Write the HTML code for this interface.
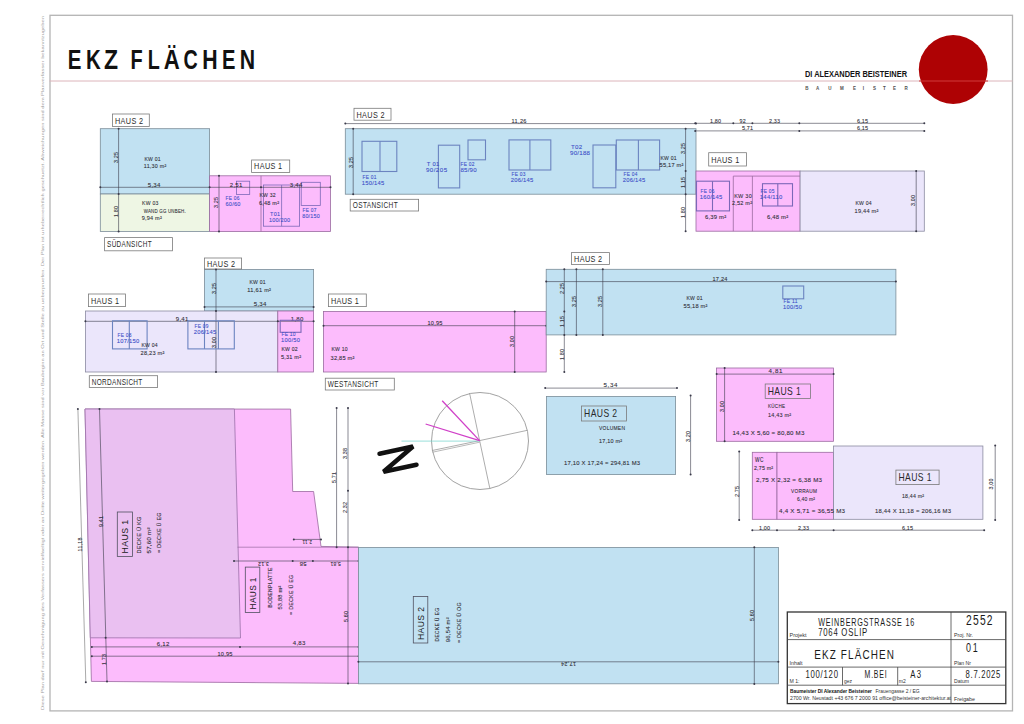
<!DOCTYPE html>
<html><head><meta charset="utf-8"><title>EKZ Flaechen</title>
<style>
html,body{margin:0;padding:0;background:#fff;width:1024px;height:724px;overflow:hidden}
svg{display:block;font-family:"Liberation Sans",sans-serif}
</style></head><body>
<svg width="1024" height="724" viewBox="0 0 1024 724">
<rect x="0" y="0" width="1024" height="724" fill="#fff"/>
<rect x="50" y="15.3" width="962.5" height="695.6" fill="none" stroke="#b4b4b4" stroke-width="1.3"/>
<text x="44.2" y="710" font-size="3" fill="#a0a0a0" textLength="694" lengthAdjust="spacingAndGlyphs" transform="rotate(-90 44.2 710)">Diese Plan darf nur mit Genehmigung des Verfassers vervielfaeltigt oder an Dritte weitergegeben werden. Alle Masse sind vor Baubeginn an Ort und Stelle zu ueberpruefen. Der Plan ist urheberrechtlich geschuetzt. Abweichungen sind dem Planverfasser bekanntzugeben</text>
<text transform="translate(67.7 69.2) scale(0.734 1)" font-size="27.91" fill="#111" font-weight="bold">E</text>
<text transform="translate(85.9 69.2) scale(0.732 1)" font-size="27.91" fill="#111" font-weight="bold">K</text>
<text transform="translate(104.1 69.2) scale(0.824 1)" font-size="27.91" fill="#111" font-weight="bold">Z</text>
<text transform="translate(130.6 69.2) scale(0.713 1)" font-size="27.91" fill="#111" font-weight="bold">F</text>
<text transform="translate(147.7 69.2) scale(0.705 1)" font-size="27.91" fill="#111" font-weight="bold">L</text>
<text transform="translate(163.8 69.2) scale(0.796 1)" font-size="27.91" fill="#111" font-weight="bold">Ä</text>
<text transform="translate(183.4 69.2) scale(0.707 1)" font-size="27.91" fill="#111" font-weight="bold">C</text>
<text transform="translate(202.3 69.2) scale(0.762 1)" font-size="27.91" fill="#111" font-weight="bold">H</text>
<text transform="translate(222 69.2) scale(0.722 1)" font-size="27.91" fill="#111" font-weight="bold">E</text>
<text transform="translate(239.7 69.2) scale(0.762 1)" font-size="27.91" fill="#111" font-weight="bold">N</text>
<line x1="49.5" y1="81" x2="1012.5" y2="81" stroke="#dcb4ba" stroke-width="1"/>
<circle cx="953.2" cy="69.5" r="34.4" fill="#ae0204"/>
<line x1="919" y1="81" x2="988" y2="81" stroke="#d03a3a" stroke-width="1.2"/>
<text x="805" y="76.8" font-size="9.8" fill="#151515" textLength="102" lengthAdjust="spacingAndGlyphs" font-weight="bold">DI ALEXANDER BEISTEINER</text>
<text transform="translate(806.8 89.6) scale(0.75 1)" text-anchor="middle" font-size="6" font-weight="bold" fill="#505050">B</text>
<text transform="translate(817.7 89.6) scale(0.75 1)" text-anchor="middle" font-size="6" font-weight="bold" fill="#505050">A</text>
<text transform="translate(829.8 89.6) scale(0.75 1)" text-anchor="middle" font-size="6" font-weight="bold" fill="#505050">U</text>
<text transform="translate(841.8 89.6) scale(0.75 1)" text-anchor="middle" font-size="6" font-weight="bold" fill="#505050">M</text>
<text transform="translate(854.4 89.6) scale(0.75 1)" text-anchor="middle" font-size="6" font-weight="bold" fill="#505050">E</text>
<text transform="translate(863.3 89.6) scale(0.75 1)" text-anchor="middle" font-size="6" font-weight="bold" fill="#505050">I</text>
<text transform="translate(874.5 89.6) scale(0.75 1)" text-anchor="middle" font-size="6" font-weight="bold" fill="#505050">S</text>
<text transform="translate(884.3 89.6) scale(0.75 1)" text-anchor="middle" font-size="6" font-weight="bold" fill="#505050">T</text>
<text transform="translate(894.6 89.6) scale(0.75 1)" text-anchor="middle" font-size="6" font-weight="bold" fill="#505050">E</text>
<text transform="translate(906.1 89.6) scale(0.75 1)" text-anchor="middle" font-size="6" font-weight="bold" fill="#505050">R</text>
<rect x="100.3" y="128.7" width="109.3" height="65.3" fill="#c1e1f2" stroke="#7a8c98" stroke-width="0.8"/>
<rect x="100.3" y="194" width="109.3" height="37.5" fill="#eef6e4" stroke="#7a8c98" stroke-width="0.8"/>
<rect x="209.6" y="175.8" width="120.9" height="55.7" fill="#fcbcfc" stroke="#9a6aa0" stroke-width="0.8"/>
<rect x="112.5" y="114" width="36.8" height="12.5" fill="#ffffff" stroke="#7a7a7a" stroke-width="0.8"/>
<text transform="translate(115 123.5) scale(0.8095785647772671 1)" font-size="9" fill="#2a2a2a" textLength="34.6" lengthAdjust="spacing">HAUS 2</text>
<rect x="251.6" y="160" width="38.1" height="12.4" fill="#ffffff" stroke="#7a7a7a" stroke-width="0.8"/>
<text transform="translate(254.1 169.4) scale(0.8095785647772671 1)" font-size="9" fill="#2a2a2a" textLength="34.6" lengthAdjust="spacing">HAUS 1</text>
<rect x="104.6" y="237.6" width="67.9" height="13.2" fill="#ffffff" stroke="#7a7a7a" stroke-width="0.8"/>
<text transform="translate(107.1 247.4) scale(0.7149890249296844 1)" font-size="9" fill="#2a2a2a" textLength="62.2" lengthAdjust="spacing">SÜDANSICHT</text>
<line x1="261" y1="175.8" x2="261" y2="231.5" stroke="#9a6aa0" stroke-width="0.8"/>
<rect x="236.5" y="181.2" width="13.2" height="13.2" fill="none" stroke="#7c68b8" stroke-width="0.8"/>
<rect x="263.4" y="185" width="36.2" height="41.2" fill="none" stroke="#7c68b8" stroke-width="0.8"/>
<line x1="281.6" y1="185" x2="281.6" y2="226.2" stroke="#7c68b8" stroke-width="0.8"/>
<rect x="301.2" y="182.3" width="19.1" height="23.2" fill="none" stroke="#7c68b8" stroke-width="0.8"/>
<line x1="100.3" y1="187.3" x2="330.5" y2="187.3" stroke="#3a3a4a" stroke-width="0.6"/>
<circle cx="100.3" cy="187.3" r="1" fill="#3a3a4a"/>
<circle cx="209.6" cy="187.3" r="1" fill="#3a3a4a"/>
<circle cx="261" cy="187.3" r="1" fill="#3a3a4a"/>
<circle cx="330.5" cy="187.3" r="1" fill="#3a3a4a"/>
<line x1="118.6" y1="128.7" x2="118.6" y2="231.5" stroke="#3a3a4a" stroke-width="0.6"/>
<circle cx="118.6" cy="128.7" r="1" fill="#3a3a4a"/>
<circle cx="118.6" cy="194" r="1" fill="#3a3a4a"/>
<circle cx="118.6" cy="231.5" r="1" fill="#3a3a4a"/>
<line x1="219" y1="175.8" x2="219" y2="231.5" stroke="#3a3a4a" stroke-width="0.6"/>
<circle cx="219" cy="175.8" r="1" fill="#3a3a4a"/>
<circle cx="219" cy="231.5" r="1" fill="#3a3a4a"/>
<text transform="translate(144.4 161) scale(0.8209693165237288 1)" font-size="6.2" fill="#303038" textLength="19.8" lengthAdjust="spacing" stroke="#303038" stroke-width="0.1">KW 01</text>
<text transform="translate(143.8 168) scale(0.8644299159422372 1)" font-size="6.2" fill="#303038" textLength="26" lengthAdjust="spacing" stroke="#303038" stroke-width="0.1">11,30 m²</text>
<text transform="translate(142.1 205) scale(0.8209693165237288 1)" font-size="6.2" fill="#303038" textLength="19.8" lengthAdjust="spacing" stroke="#303038" stroke-width="0.1">KW 03</text>
<text transform="translate(143.7 212.5) scale(0.7118912322654602 1)" font-size="6.2" fill="#303038" textLength="59" lengthAdjust="spacing" stroke="#303038" stroke-width="0.1">WAND GG UNBEH.</text>
<text transform="translate(141.7 220) scale(0.8944353328718179 1)" font-size="6.2" fill="#303038" textLength="22.4" lengthAdjust="spacing" stroke="#303038" stroke-width="0.1">9,94 m²</text>
<text transform="translate(147.8 186.7) scale(0.9737306378777333 1)" font-size="6.2" fill="#303038" textLength="12.8" lengthAdjust="spacing" stroke="#303038" stroke-width="0.1">5,34</text>
<text transform="translate(229.8 186.7) scale(0.9737306378777333 1)" font-size="6.2" fill="#303038" textLength="12.8" lengthAdjust="spacing" stroke="#303038" stroke-width="0.1">2,51</text>
<text transform="translate(289.8 186.7) scale(0.9737306378777333 1)" font-size="6.2" fill="#303038" textLength="12.8" lengthAdjust="spacing" stroke="#303038" stroke-width="0.1">3,44</text>
<text transform="translate(117.5 163.1) rotate(-90) scale(0.87635757408996 1)" font-size="6.2" fill="#303038" textLength="12.8" lengthAdjust="spacing" stroke="#303038" stroke-width="0.1">3,25</text>
<text transform="translate(117.5 217.1) rotate(-90) scale(0.87635757408996 1)" font-size="6.2" fill="#303038" textLength="12.8" lengthAdjust="spacing" stroke="#303038" stroke-width="0.1">1,80</text>
<text transform="translate(218 208.1) rotate(-90) scale(0.87635757408996 1)" font-size="6.2" fill="#303038" textLength="12.8" lengthAdjust="spacing" stroke="#303038" stroke-width="0.1">3,25</text>
<text transform="translate(225.6 200) scale(0.7813725027157227 1)" font-size="6.2" fill="#4050c8" textLength="17.6" lengthAdjust="spacing" stroke="#4050c8" stroke-width="0.1">FE 06</text>
<text transform="translate(225.5 206) scale(0.9087899291896144 1)" font-size="6.2" fill="#4050c8" textLength="16.5" lengthAdjust="spacing" stroke="#4050c8" stroke-width="0.1">60/60</text>
<text transform="translate(259.4 197) scale(0.8209693165237288 1)" font-size="6.2" fill="#303038" textLength="19.8" lengthAdjust="spacing" stroke="#303038" stroke-width="0.1">KW 32</text>
<text transform="translate(259 205) scale(0.8944353328718179 1)" font-size="6.2" fill="#303038" textLength="22.4" lengthAdjust="spacing" stroke="#303038" stroke-width="0.1">6,48 m²</text>
<text transform="translate(270 216) scale(0.879861790327151 1)" font-size="6.2" fill="#4050c8" textLength="11.4" lengthAdjust="spacing" stroke="#4050c8" stroke-width="0.1">T01</text>
<text transform="translate(268.9 222) scale(0.8912864444667157 1)" font-size="6.2" fill="#4050c8" textLength="23.8" lengthAdjust="spacing" stroke="#4050c8" stroke-width="0.1">100/200</text>
<text transform="translate(302.6 212) scale(0.7813725027157227 1)" font-size="6.2" fill="#4050c8" textLength="17.6" lengthAdjust="spacing" stroke="#4050c8" stroke-width="0.1">FE 07</text>
<text transform="translate(302.2 218) scale(0.8674659086227494 1)" font-size="6.2" fill="#4050c8" textLength="20.2" lengthAdjust="spacing" stroke="#4050c8" stroke-width="0.1">80/150</text>
<rect x="345.3" y="128.7" width="350.7" height="65.5" fill="#c1e1f2" stroke="#7a8c98" stroke-width="0.8"/>
<rect x="354" y="108.3" width="37" height="11.9" fill="#ffffff" stroke="#7a7a7a" stroke-width="0.8"/>
<text transform="translate(356.5 117.5) scale(0.8095785647772671 1)" font-size="9" fill="#2a2a2a" textLength="34.6" lengthAdjust="spacing">HAUS 2</text>
<rect x="350.2" y="199.3" width="68.4" height="11.7" fill="#ffffff" stroke="#7a7a7a" stroke-width="0.8"/>
<text transform="translate(352.7 208.4) scale(0.729267368740056 1)" font-size="9" fill="#2a2a2a" textLength="61.7" lengthAdjust="spacing">OSTANSICHT</text>
<line x1="345.3" y1="123.6" x2="696" y2="123.6" stroke="#3a3a4a" stroke-width="0.6"/>
<circle cx="345.3" cy="123.6" r="1" fill="#3a3a4a"/>
<circle cx="696" cy="123.6" r="1" fill="#3a3a4a"/>
<text transform="translate(511.5 122.7) scale(0.9087899291896144 1)" font-size="6.2" fill="#303038" textLength="16.5" lengthAdjust="spacing" stroke="#303038" stroke-width="0.1">11,26</text>
<line x1="353.2" y1="128.7" x2="353.2" y2="194.2" stroke="#3a3a4a" stroke-width="0.6"/>
<circle cx="353.2" cy="128.7" r="1" fill="#3a3a4a"/>
<circle cx="353.2" cy="194.2" r="1" fill="#3a3a4a"/>
<text transform="translate(352.5 168.1) rotate(-90) scale(0.87635757408996 1)" font-size="6.2" fill="#303038" textLength="12.8" lengthAdjust="spacing" stroke="#303038" stroke-width="0.1">3,25</text>
<rect x="362" y="141.3" width="34.8" height="30.2" fill="none" stroke="#6c84c0" stroke-width="1.1"/>
<line x1="380" y1="141.3" x2="380" y2="171.5" stroke="#6c84c0" stroke-width="1.1"/>
<rect x="438.4" y="145.2" width="21.3" height="42.7" fill="none" stroke="#6c84c0" stroke-width="1.1"/>
<rect x="468" y="140" width="17.5" height="19.8" fill="none" stroke="#6c84c0" stroke-width="1.1"/>
<rect x="509" y="139.9" width="41.8" height="30.1" fill="none" stroke="#6c84c0" stroke-width="1.1"/>
<line x1="529.9" y1="139.9" x2="529.9" y2="170" stroke="#6c84c0" stroke-width="1.1"/>
<rect x="593" y="145" width="22.8" height="42.8" fill="none" stroke="#6c84c0" stroke-width="1.1"/>
<rect x="616.3" y="140" width="43.3" height="30" fill="none" stroke="#6c84c0" stroke-width="1.1"/>
<line x1="638.4" y1="140" x2="638.4" y2="170" stroke="#6c84c0" stroke-width="1.1"/>
<text transform="translate(362.6 178.5) scale(0.7813725027157227 1)" font-size="6.2" fill="#4050c8" textLength="17.6" lengthAdjust="spacing" stroke="#4050c8" stroke-width="0.1">FE 01</text>
<text transform="translate(361.8 184.5) scale(0.9437150588471108 1)" font-size="6.2" fill="#4050c8" textLength="23.8" lengthAdjust="spacing" stroke="#4050c8" stroke-width="0.1">150/145</text>
<text transform="translate(426.8 166) scale(0.947118185109967 1)" font-size="6.2" fill="#4050c8" textLength="13.2" lengthAdjust="spacing" stroke="#4050c8" stroke-width="0.1">T 01</text>
<text transform="translate(425.9 172) scale(1.0 1)" font-size="6.2" fill="#4050c8" textLength="21.2" lengthAdjust="spacing" stroke="#4050c8" stroke-width="0.1">90/205</text>
<text transform="translate(460.6 166) scale(0.7813725027157227 1)" font-size="6.2" fill="#4050c8" textLength="17.6" lengthAdjust="spacing" stroke="#4050c8" stroke-width="0.1">FE 02</text>
<text transform="translate(460.4 172) scale(0.984522423288749 1)" font-size="6.2" fill="#4050c8" textLength="16.5" lengthAdjust="spacing" stroke="#4050c8" stroke-width="0.1">85/90</text>
<text transform="translate(511.6 176) scale(0.7813725027157227 1)" font-size="6.2" fill="#4050c8" textLength="17.6" lengthAdjust="spacing" stroke="#4050c8" stroke-width="0.1">FE 03</text>
<text transform="translate(510.8 182) scale(0.9437150588471108 1)" font-size="6.2" fill="#4050c8" textLength="23.8" lengthAdjust="spacing" stroke="#4050c8" stroke-width="0.1">206/145</text>
<text transform="translate(570.9 148.5) scale(0.989844514118045 1)" font-size="6.2" fill="#4050c8" textLength="11.4" lengthAdjust="spacing" stroke="#4050c8" stroke-width="0.1">T02</text>
<text transform="translate(570 154.5) scale(0.9913896098545707 1)" font-size="6.2" fill="#4050c8" textLength="20.2" lengthAdjust="spacing" stroke="#4050c8" stroke-width="0.1">90/188</text>
<text transform="translate(623.6 176) scale(0.7813725027157227 1)" font-size="6.2" fill="#4050c8" textLength="17.6" lengthAdjust="spacing" stroke="#4050c8" stroke-width="0.1">FE 04</text>
<text transform="translate(622.8 182) scale(0.9437150588471108 1)" font-size="6.2" fill="#4050c8" textLength="23.8" lengthAdjust="spacing" stroke="#4050c8" stroke-width="0.1">206/145</text>
<text transform="translate(660.4 160) scale(0.8209693165237288 1)" font-size="6.2" fill="#303038" textLength="19.8" lengthAdjust="spacing" stroke="#303038" stroke-width="0.1">KW 01</text>
<text transform="translate(659.6 167) scale(0.9124538001612503 1)" font-size="6.2" fill="#303038" textLength="26" lengthAdjust="spacing" stroke="#303038" stroke-width="0.1">55,17 m²</text>
<rect x="696" y="171" width="104.1" height="60.2" fill="#fcbcfc" stroke="#9a6aa0" stroke-width="0.8"/>
<rect x="800.1" y="171" width="124.2" height="60.2" fill="#ebe6fb" stroke="#8a8aa0" stroke-width="0.8"/>
<rect x="708.7" y="152.7" width="37.8" height="13.3" fill="#ffffff" stroke="#7a7a7a" stroke-width="0.8"/>
<text transform="translate(711.2 162.6) scale(0.8095785647772671 1)" font-size="9" fill="#2a2a2a" textLength="34.6" lengthAdjust="spacing">HAUS 1</text>
<line x1="685.6" y1="128.7" x2="685.6" y2="231.2" stroke="#3a3a4a" stroke-width="0.6"/>
<circle cx="685.6" cy="128.7" r="1" fill="#3a3a4a"/>
<circle cx="685.6" cy="171" r="1" fill="#3a3a4a"/>
<circle cx="685.6" cy="194.2" r="1" fill="#3a3a4a"/>
<circle cx="685.6" cy="231.2" r="1" fill="#3a3a4a"/>
<text transform="translate(685 154.1) rotate(-90) scale(0.87635757408996 1)" font-size="6.2" fill="#303038" textLength="12.8" lengthAdjust="spacing" stroke="#303038" stroke-width="0.1">3,25</text>
<text transform="translate(685 188.1) rotate(-90) scale(0.87635757408996 1)" font-size="6.2" fill="#303038" textLength="12.8" lengthAdjust="spacing" stroke="#303038" stroke-width="0.1">1,15</text>
<text transform="translate(685 218.1) rotate(-90) scale(0.87635757408996 1)" font-size="6.2" fill="#303038" textLength="12.8" lengthAdjust="spacing" stroke="#303038" stroke-width="0.1">1,80</text>
<line x1="733.3" y1="176.1" x2="800.1" y2="176.1" stroke="#9a6aa0" stroke-width="0.8"/>
<line x1="733.3" y1="176.1" x2="733.3" y2="231.2" stroke="#9a6aa0" stroke-width="0.8"/>
<line x1="752.4" y1="176.1" x2="752.4" y2="231.2" stroke="#9a6aa0" stroke-width="0.8"/>
<rect x="696.5" y="181.2" width="33" height="29.7" fill="none" stroke="#7c68b8" stroke-width="1.1"/>
<line x1="712.5" y1="181.2" x2="712.5" y2="210.9" stroke="#7c68b8" stroke-width="1.1"/>
<rect x="762.5" y="183.7" width="30" height="22.3" fill="none" stroke="#7c68b8" stroke-width="1.1"/>
<line x1="777.8" y1="183.7" x2="777.8" y2="206" stroke="#7c68b8" stroke-width="1.1"/>
<line x1="695.2" y1="123.3" x2="924.3" y2="123.3" stroke="#3a3a4a" stroke-width="0.6"/>
<circle cx="695.2" cy="123.3" r="1" fill="#3a3a4a"/>
<circle cx="733.3" cy="123.3" r="1" fill="#3a3a4a"/>
<circle cx="752.4" cy="123.3" r="1" fill="#3a3a4a"/>
<circle cx="799.3" cy="123.3" r="1" fill="#3a3a4a"/>
<circle cx="924.3" cy="123.3" r="1" fill="#3a3a4a"/>
<line x1="695.2" y1="130.9" x2="924.3" y2="130.9" stroke="#3a3a4a" stroke-width="0.6"/>
<circle cx="695.2" cy="130.9" r="1" fill="#3a3a4a"/>
<circle cx="799.3" cy="130.9" r="1" fill="#3a3a4a"/>
<circle cx="924.3" cy="130.9" r="1" fill="#3a3a4a"/>
<text transform="translate(709.9 122.7) scale(0.87635757408996 1)" font-size="6.2" fill="#303038" textLength="12.8" lengthAdjust="spacing" stroke="#303038" stroke-width="0.1">1,80</text>
<text transform="translate(739.4 122.7) scale(0.8519074456937324 1)" font-size="6.2" fill="#303038" textLength="7.3" lengthAdjust="spacing" stroke="#303038" stroke-width="0.1">92</text>
<text transform="translate(768.9 122.7) scale(0.87635757408996 1)" font-size="6.2" fill="#303038" textLength="12.8" lengthAdjust="spacing" stroke="#303038" stroke-width="0.1">2,33</text>
<text transform="translate(856.9 122.7) scale(0.87635757408996 1)" font-size="6.2" fill="#303038" textLength="12.8" lengthAdjust="spacing" stroke="#303038" stroke-width="0.1">6,15</text>
<text transform="translate(741.9 130.2) scale(0.87635757408996 1)" font-size="6.2" fill="#303038" textLength="12.8" lengthAdjust="spacing" stroke="#303038" stroke-width="0.1">5,71</text>
<text transform="translate(856.9 130.2) scale(0.87635757408996 1)" font-size="6.2" fill="#303038" textLength="12.8" lengthAdjust="spacing" stroke="#303038" stroke-width="0.1">6,15</text>
<line x1="916.2" y1="171" x2="916.2" y2="231.2" stroke="#3a3a4a" stroke-width="0.6"/>
<circle cx="916.2" cy="171" r="1" fill="#3a3a4a"/>
<circle cx="916.2" cy="231.2" r="1" fill="#3a3a4a"/>
<text transform="translate(915 206.1) rotate(-90) scale(0.87635757408996 1)" font-size="6.2" fill="#303038" textLength="12.8" lengthAdjust="spacing" stroke="#303038" stroke-width="0.1">3,00</text>
<text transform="translate(700.6 193) scale(0.7813725027157227 1)" font-size="6.2" fill="#4050c8" textLength="17.6" lengthAdjust="spacing" stroke="#4050c8" stroke-width="0.1">FE 06</text>
<text transform="translate(699.8 199) scale(0.9437150588471108 1)" font-size="6.2" fill="#4050c8" textLength="23.8" lengthAdjust="spacing" stroke="#4050c8" stroke-width="0.1">160/145</text>
<text transform="translate(704.9 218.5) scale(0.9503375411763065 1)" font-size="6.2" fill="#303038" textLength="22.4" lengthAdjust="spacing" stroke="#303038" stroke-width="0.1">6,39 m²</text>
<text transform="translate(734.2 198) scale(0.8841208024101695 1)" font-size="6.2" fill="#303038" textLength="19.8" lengthAdjust="spacing" stroke="#303038" stroke-width="0.1">KW 30</text>
<text transform="translate(732 205) scale(0.8944353328718179 1)" font-size="6.2" fill="#303038" textLength="22.4" lengthAdjust="spacing" stroke="#303038" stroke-width="0.1">2,52 m²</text>
<text transform="translate(760.6 193) scale(0.7813725027157227 1)" font-size="6.2" fill="#4050c8" textLength="17.6" lengthAdjust="spacing" stroke="#4050c8" stroke-width="0.1">FE 05</text>
<text transform="translate(759.8 199) scale(0.9437150588471108 1)" font-size="6.2" fill="#4050c8" textLength="23.8" lengthAdjust="spacing" stroke="#4050c8" stroke-width="0.1">144/110</text>
<text transform="translate(766.9 219) scale(0.9503375411763065 1)" font-size="6.2" fill="#303038" textLength="22.4" lengthAdjust="spacing" stroke="#303038" stroke-width="0.1">6,48 m²</text>
<text transform="translate(855.4 205) scale(0.8209693165237288 1)" font-size="6.2" fill="#303038" textLength="19.8" lengthAdjust="spacing" stroke="#303038" stroke-width="0.1">KW 04</text>
<text transform="translate(854.6 213) scale(0.9124538001612503 1)" font-size="6.2" fill="#303038" textLength="26" lengthAdjust="spacing" stroke="#303038" stroke-width="0.1">19,44 m²</text>
<rect x="204.5" y="269.5" width="109.1" height="41.5" fill="#c1e1f2" stroke="#7a8c98" stroke-width="0.8"/>
<rect x="85.4" y="311" width="192.4" height="61" fill="#ebe6fb" stroke="#8a8aa0" stroke-width="0.8"/>
<rect x="277.8" y="311" width="35.8" height="61" fill="#fcbcfc" stroke="#9a6aa0" stroke-width="0.8"/>
<rect x="204.5" y="258" width="37.1" height="11" fill="#ffffff" stroke="#7a7a7a" stroke-width="0.8"/>
<text transform="translate(207 266.7) scale(0.8095785647772671 1)" font-size="9" fill="#2a2a2a" textLength="34.6" lengthAdjust="spacing">HAUS 2</text>
<rect x="88.5" y="294" width="36.9" height="12.6" fill="#ffffff" stroke="#7a7a7a" stroke-width="0.8"/>
<text transform="translate(91 303.5) scale(0.8095785647772671 1)" font-size="9" fill="#2a2a2a" textLength="34.6" lengthAdjust="spacing">HAUS 1</text>
<rect x="89.3" y="375.7" width="68.3" height="11.8" fill="#ffffff" stroke="#7a7a7a" stroke-width="0.8"/>
<text transform="translate(91.8 384.8) scale(0.7192264612971717 1)" font-size="9" fill="#2a2a2a" textLength="70.2" lengthAdjust="spacing">NORDANSICHT</text>
<line x1="204.5" y1="306.9" x2="313.6" y2="306.9" stroke="#3a3a4a" stroke-width="0.6"/>
<circle cx="204.5" cy="306.9" r="1" fill="#3a3a4a"/>
<circle cx="313.6" cy="306.9" r="1" fill="#3a3a4a"/>
<text transform="translate(253.8 306.2) scale(0.9737306378777333 1)" font-size="6.2" fill="#303038" textLength="12.8" lengthAdjust="spacing" stroke="#303038" stroke-width="0.1">5,34</text>
<line x1="85.4" y1="321.3" x2="313.6" y2="321.3" stroke="#3a3a4a" stroke-width="0.6"/>
<circle cx="85.4" cy="321.3" r="1" fill="#3a3a4a"/>
<circle cx="277.8" cy="321.3" r="1" fill="#3a3a4a"/>
<circle cx="313.6" cy="321.3" r="1" fill="#3a3a4a"/>
<text transform="translate(175.8 320.7) scale(0.9737306378777333 1)" font-size="6.2" fill="#303038" textLength="12.8" lengthAdjust="spacing" stroke="#303038" stroke-width="0.1">9,41</text>
<text transform="translate(290.8 320.7) scale(0.9737306378777333 1)" font-size="6.2" fill="#303038" textLength="12.8" lengthAdjust="spacing" stroke="#303038" stroke-width="0.1">1,80</text>
<line x1="216" y1="269.5" x2="216" y2="372" stroke="#3a3a4a" stroke-width="0.6"/>
<circle cx="216" cy="269.5" r="1" fill="#3a3a4a"/>
<circle cx="216" cy="311" r="1" fill="#3a3a4a"/>
<circle cx="216" cy="372" r="1" fill="#3a3a4a"/>
<text transform="translate(215.5 294.1) rotate(-90) scale(0.87635757408996 1)" font-size="6.2" fill="#303038" textLength="12.8" lengthAdjust="spacing" stroke="#303038" stroke-width="0.1">3,25</text>
<text transform="translate(215.5 348.1) rotate(-90) scale(0.87635757408996 1)" font-size="6.2" fill="#303038" textLength="12.8" lengthAdjust="spacing" stroke="#303038" stroke-width="0.1">3,00</text>
<rect x="112.5" y="320.8" width="34.6" height="28.1" fill="none" stroke="#6c84c0" stroke-width="1.1"/>
<line x1="129.3" y1="320.8" x2="129.3" y2="348.9" stroke="#6c84c0" stroke-width="1.1"/>
<rect x="187.9" y="320.8" width="46.4" height="28.1" fill="none" stroke="#6c84c0" stroke-width="1.1"/>
<line x1="204.5" y1="320.8" x2="204.5" y2="348.9" stroke="#6c84c0" stroke-width="1.1"/>
<line x1="218.4" y1="320.8" x2="218.4" y2="348.9" stroke="#6c84c0" stroke-width="1.1"/>
<rect x="280.2" y="320.3" width="20.8" height="12" fill="none" stroke="#7c68b8" stroke-width="1.1"/>
<text transform="translate(117.6 337) scale(0.7813725027157227 1)" font-size="6.2" fill="#4050c8" textLength="17.6" lengthAdjust="spacing" stroke="#4050c8" stroke-width="0.1">FE 08</text>
<text transform="translate(116.8 343) scale(0.9437150588471108 1)" font-size="6.2" fill="#4050c8" textLength="23.8" lengthAdjust="spacing" stroke="#4050c8" stroke-width="0.1">107/150</text>
<text transform="translate(249.4 284) scale(0.8209693165237288 1)" font-size="6.2" fill="#303038" textLength="19.8" lengthAdjust="spacing" stroke="#303038" stroke-width="0.1">KW 01</text>
<text transform="translate(247.3 292) scale(0.9124538001612503 1)" font-size="6.2" fill="#303038" textLength="26" lengthAdjust="spacing" stroke="#303038" stroke-width="0.1">11,61 m²</text>
<text transform="translate(141.4 346.5) scale(0.8209693165237288 1)" font-size="6.2" fill="#303038" textLength="19.8" lengthAdjust="spacing" stroke="#303038" stroke-width="0.1">KW 04</text>
<text transform="translate(140.6 354.5) scale(0.9124538001612503 1)" font-size="6.2" fill="#303038" textLength="26" lengthAdjust="spacing" stroke="#303038" stroke-width="0.1">28,23 m²</text>
<text transform="translate(194.6 328) scale(0.7813725027157227 1)" font-size="6.2" fill="#4050c8" textLength="17.6" lengthAdjust="spacing" stroke="#4050c8" stroke-width="0.1">FE 09</text>
<text transform="translate(193.8 334) scale(0.9437150588471108 1)" font-size="6.2" fill="#4050c8" textLength="23.8" lengthAdjust="spacing" stroke="#4050c8" stroke-width="0.1">206/145</text>
<text transform="translate(281.6 336) scale(0.7813725027157227 1)" font-size="6.2" fill="#4050c8" textLength="17.6" lengthAdjust="spacing" stroke="#4050c8" stroke-width="0.1">FE 10</text>
<text transform="translate(281.1 342) scale(0.9294277592386602 1)" font-size="6.2" fill="#4050c8" textLength="20.2" lengthAdjust="spacing" stroke="#4050c8" stroke-width="0.1">100/50</text>
<text transform="translate(281.4 350.5) scale(0.8209693165237288 1)" font-size="6.2" fill="#303038" textLength="19.8" lengthAdjust="spacing" stroke="#303038" stroke-width="0.1">KW 02</text>
<text transform="translate(281 358.5) scale(0.8944353328718179 1)" font-size="6.2" fill="#303038" textLength="22.4" lengthAdjust="spacing" stroke="#303038" stroke-width="0.1">5,31 m²</text>
<rect x="323.5" y="311.5" width="222.7" height="60.5" fill="#fcbcfc" stroke="#9a6aa0" stroke-width="0.8"/>
<rect x="328.4" y="294" width="37.9" height="12.6" fill="#ffffff" stroke="#7a7a7a" stroke-width="0.8"/>
<text transform="translate(330.9 303.5) scale(0.8095785647772671 1)" font-size="9" fill="#2a2a2a" textLength="34.6" lengthAdjust="spacing">HAUS 1</text>
<rect x="325.3" y="378.2" width="69" height="11.8" fill="#ffffff" stroke="#7a7a7a" stroke-width="0.8"/>
<text transform="translate(327.8 387.3) scale(0.7247274218196728 1)" font-size="9" fill="#2a2a2a" textLength="69.7" lengthAdjust="spacing">WESTANSICHT</text>
<line x1="323.5" y1="325.7" x2="546.2" y2="325.7" stroke="#3a3a4a" stroke-width="0.6"/>
<circle cx="323.5" cy="325.7" r="1" fill="#3a3a4a"/>
<circle cx="546.2" cy="325.7" r="1" fill="#3a3a4a"/>
<text transform="translate(427.5 324.7) scale(0.9087899291896144 1)" font-size="6.2" fill="#303038" textLength="16.5" lengthAdjust="spacing" stroke="#303038" stroke-width="0.1">10,95</text>
<line x1="514.7" y1="311.5" x2="514.7" y2="372" stroke="#3a3a4a" stroke-width="0.6"/>
<circle cx="514.7" cy="311.5" r="1" fill="#3a3a4a"/>
<circle cx="514.7" cy="372" r="1" fill="#3a3a4a"/>
<text transform="translate(514 347.1) rotate(-90) scale(0.87635757408996 1)" font-size="6.2" fill="#303038" textLength="12.8" lengthAdjust="spacing" stroke="#303038" stroke-width="0.1">3,00</text>
<text transform="translate(331.4 351) scale(0.8209693165237288 1)" font-size="6.2" fill="#303038" textLength="19.8" lengthAdjust="spacing" stroke="#303038" stroke-width="0.1">KW 10</text>
<text transform="translate(330.6 359.5) scale(0.9124538001612503 1)" font-size="6.2" fill="#303038" textLength="26" lengthAdjust="spacing" stroke="#303038" stroke-width="0.1">32,85 m²</text>
<rect x="546.2" y="269.3" width="349.7" height="65.6" fill="#c1e1f2" stroke="#7a8c98" stroke-width="0.8"/>
<rect x="571.6" y="252.6" width="37.8" height="11.8" fill="#ffffff" stroke="#7a7a7a" stroke-width="0.8"/>
<text transform="translate(574.1 261.7) scale(0.8095785647772671 1)" font-size="9" fill="#2a2a2a" textLength="34.6" lengthAdjust="spacing">HAUS 2</text>
<line x1="546.2" y1="281.6" x2="895.9" y2="281.6" stroke="#3a3a4a" stroke-width="0.6"/>
<circle cx="546.2" cy="281.6" r="1" fill="#3a3a4a"/>
<circle cx="895.9" cy="281.6" r="1" fill="#3a3a4a"/>
<text transform="translate(712.5 280.7) scale(0.9087899291896144 1)" font-size="6.2" fill="#303038" textLength="16.5" lengthAdjust="spacing" stroke="#303038" stroke-width="0.1">17,24</text>
<line x1="564.3" y1="269.3" x2="564.3" y2="372" stroke="#3a3a4a" stroke-width="0.6"/>
<circle cx="564.3" cy="269.3" r="1" fill="#3a3a4a"/>
<circle cx="564.3" cy="311.5" r="1" fill="#3a3a4a"/>
<circle cx="564.3" cy="334.9" r="1" fill="#3a3a4a"/>
<circle cx="564.3" cy="372" r="1" fill="#3a3a4a"/>
<text transform="translate(563.5 294.1) rotate(-90) scale(0.87635757408996 1)" font-size="6.2" fill="#303038" textLength="12.8" lengthAdjust="spacing" stroke="#303038" stroke-width="0.1">2,25</text>
<text transform="translate(563.5 327.1) rotate(-90) scale(0.87635757408996 1)" font-size="6.2" fill="#303038" textLength="12.8" lengthAdjust="spacing" stroke="#303038" stroke-width="0.1">1,15</text>
<text transform="translate(563.5 360.1) rotate(-90) scale(0.87635757408996 1)" font-size="6.2" fill="#303038" textLength="12.8" lengthAdjust="spacing" stroke="#303038" stroke-width="0.1">1,80</text>
<line x1="576.4" y1="269.3" x2="576.4" y2="334.9" stroke="#3a3a4a" stroke-width="0.6"/>
<circle cx="576.4" cy="269.3" r="1" fill="#3a3a4a"/>
<circle cx="576.4" cy="334.9" r="1" fill="#3a3a4a"/>
<text transform="translate(575.7 307.1) rotate(-90) scale(0.87635757408996 1)" font-size="6.2" fill="#303038" textLength="12.8" lengthAdjust="spacing" stroke="#303038" stroke-width="0.1">3,25</text>
<line x1="602.8" y1="269.3" x2="602.8" y2="334.9" stroke="#3a3a4a" stroke-width="0.6"/>
<circle cx="602.8" cy="269.3" r="1" fill="#3a3a4a"/>
<circle cx="602.8" cy="334.9" r="1" fill="#3a3a4a"/>
<text transform="translate(602.1 307.1) rotate(-90) scale(0.87635757408996 1)" font-size="6.2" fill="#303038" textLength="12.8" lengthAdjust="spacing" stroke="#303038" stroke-width="0.1">3,25</text>
<rect x="782.8" y="286" width="20.9" height="12.8" fill="none" stroke="#6c84c0" stroke-width="1.1"/>
<text transform="translate(783.6 302.5) scale(0.7813725027157227 1)" font-size="6.2" fill="#4050c8" textLength="17.6" lengthAdjust="spacing" stroke="#4050c8" stroke-width="0.1">FE 11</text>
<text transform="translate(783.1 308.5) scale(0.9294277592386602 1)" font-size="6.2" fill="#4050c8" textLength="20.2" lengthAdjust="spacing" stroke="#4050c8" stroke-width="0.1">100/50</text>
<text transform="translate(686.4 300) scale(0.8209693165237288 1)" font-size="6.2" fill="#303038" textLength="19.8" lengthAdjust="spacing" stroke="#303038" stroke-width="0.1">KW 01</text>
<text transform="translate(683.6 308) scale(0.9124538001612503 1)" font-size="6.2" fill="#303038" textLength="26" lengthAdjust="spacing" stroke="#303038" stroke-width="0.1">55,18 m²</text>
<circle cx="480" cy="441" r="48.5" fill="none" stroke="#8a8a8a" stroke-width="0.8"/>
<line x1="479.6" y1="440.6" x2="469.6" y2="393.3" stroke="#8a8a8a" stroke-width="0.7"/>
<line x1="479.6" y1="440.6" x2="527.4" y2="430.3" stroke="#8a8a8a" stroke-width="0.7"/>
<line x1="479.6" y1="440.6" x2="489.9" y2="488.7" stroke="#8a8a8a" stroke-width="0.7"/>
<line x1="479.6" y1="440.6" x2="432.2" y2="450.5" stroke="#8a8a8a" stroke-width="0.7"/>
<line x1="479.6" y1="442.2" x2="432.6" y2="452.2" stroke="#8a8a8a" stroke-width="0.6"/>
<line x1="401.5" y1="441.1" x2="479.6" y2="441.1" stroke="#80d8d0" stroke-width="0.8"/>
<line x1="479.6" y1="440.6" x2="442.2" y2="400.7" stroke="#d040c8" stroke-width="1.3"/>
<line x1="479.6" y1="440.6" x2="425.6" y2="424" stroke="#d040c8" stroke-width="1.3"/>
<polyline points="379.5,453.8 413,446.5 383.5,471.8 416.5,464.7" fill="none" stroke="#111" stroke-width="4.5" stroke-linejoin="miter" stroke-linecap="round"/>
<rect x="546.4" y="396.4" width="129.2" height="78.2" fill="#c1e1f2" stroke="#7a8c98" stroke-width="0.8"/>
<line x1="545.2" y1="388.1" x2="677" y2="388.1" stroke="#3a3a4a" stroke-width="0.6"/>
<circle cx="545.2" cy="388.1" r="1" fill="#3a3a4a"/>
<circle cx="677" cy="388.1" r="1" fill="#3a3a4a"/>
<text transform="translate(603.6 387.2) scale(1.0 1)" font-size="6.2" fill="#303038" textLength="13.8" lengthAdjust="spacing" stroke="#303038" stroke-width="0.1">5,34</text>
<line x1="690.6" y1="395.5" x2="690.6" y2="474.6" stroke="#3a3a4a" stroke-width="0.6"/>
<circle cx="690.6" cy="395.5" r="1" fill="#3a3a4a"/>
<circle cx="690.6" cy="474.6" r="1" fill="#3a3a4a"/>
<text transform="translate(689.9 442.1) rotate(-90) scale(0.87635757408996 1)" font-size="6.2" fill="#303038" textLength="12.8" lengthAdjust="spacing" stroke="#303038" stroke-width="0.1">3,20</text>
<rect x="581.6" y="406" width="44.8" height="15" fill="none" stroke="#7a7a7a" stroke-width="0.8"/>
<text transform="translate(584.1 417.3) scale(0.8178395705403004 1)" font-size="10.5" fill="#2a2a2a" textLength="40.4" lengthAdjust="spacing">HAUS 2</text>
<text transform="translate(599 430) scale(0.797105437496815 1)" font-size="6.2" fill="#303038" textLength="32.6" lengthAdjust="spacing" stroke="#303038" stroke-width="0.1">VOLUMEN</text>
<text transform="translate(599 443) scale(0.8836394696298424 1)" font-size="6.2" fill="#303038" textLength="26" lengthAdjust="spacing" stroke="#303038" stroke-width="0.1">17,10 m²</text>
<text transform="translate(564 465) scale(0.9528484681131519 1)" font-size="6.2" fill="#303038" textLength="79.8" lengthAdjust="spacing" stroke="#303038" stroke-width="0.1">17,10 X 17,24 = 294,81 M3</text>
<rect x="716.6" y="368" width="117" height="73.3" fill="#fcbcfc" stroke="#9a6aa0" stroke-width="0.8"/>
<line x1="716.6" y1="374.1" x2="833.6" y2="374.1" stroke="#3a3a4a" stroke-width="0.6"/>
<circle cx="716.6" cy="374.1" r="1" fill="#3a3a4a"/>
<circle cx="833.6" cy="374.1" r="1" fill="#3a3a4a"/>
<text transform="translate(768.6 373.2) scale(1.0 1)" font-size="6.2" fill="#303038" textLength="13.8" lengthAdjust="spacing" stroke="#303038" stroke-width="0.1">4,81</text>
<line x1="724.6" y1="368" x2="724.6" y2="441.3" stroke="#3a3a4a" stroke-width="0.6"/>
<circle cx="724.6" cy="368" r="1" fill="#3a3a4a"/>
<circle cx="724.6" cy="441.3" r="1" fill="#3a3a4a"/>
<text transform="translate(723.9 412.1) rotate(-90) scale(0.87635757408996 1)" font-size="6.2" fill="#303038" textLength="12.8" lengthAdjust="spacing" stroke="#303038" stroke-width="0.1">3,00</text>
<rect x="765.2" y="384" width="45.2" height="14.5" fill="none" stroke="#7a7a7a" stroke-width="0.8"/>
<text transform="translate(767.7 395) scale(0.8178395705403004 1)" font-size="10.5" fill="#2a2a2a" textLength="40.4" lengthAdjust="spacing">HAUS 1</text>
<text transform="translate(768 408) scale(0.73630280913791 1)" font-size="6.2" fill="#303038" textLength="23.1" lengthAdjust="spacing" stroke="#303038" stroke-width="0.1">KÜCHE</text>
<text transform="translate(768 416.5) scale(0.8836394696298424 1)" font-size="6.2" fill="#303038" textLength="26" lengthAdjust="spacing" stroke="#303038" stroke-width="0.1">14,43 m²</text>
<text transform="translate(732.4 435) scale(0.9941405308637724 1)" font-size="6.2" fill="#303038" textLength="72.4" lengthAdjust="spacing" stroke="#303038" stroke-width="0.1">14,43 X 5,60 = 80,80 M3</text>
<rect x="752.3" y="452.3" width="24.7" height="67" fill="#fcbcfc" stroke="#9a6aa0" stroke-width="0.8"/>
<rect x="777" y="452.3" width="56.6" height="67" fill="#fcbcfc" stroke="#9a6aa0" stroke-width="0.8"/>
<rect x="833.6" y="446" width="149.3" height="73.3" fill="#ebe6fb" stroke="#8a8aa0" stroke-width="0.8"/>
<line x1="739.2" y1="451.5" x2="739.2" y2="520" stroke="#3a3a4a" stroke-width="0.6"/>
<circle cx="739.2" cy="451.5" r="1" fill="#3a3a4a"/>
<circle cx="739.2" cy="520" r="1" fill="#3a3a4a"/>
<text transform="translate(738.5 497.1) rotate(-90) scale(0.87635757408996 1)" font-size="6.2" fill="#303038" textLength="12.8" lengthAdjust="spacing" stroke="#303038" stroke-width="0.1">2,75</text>
<line x1="995.2" y1="445.5" x2="995.2" y2="520" stroke="#3a3a4a" stroke-width="0.6"/>
<circle cx="995.2" cy="445.5" r="1" fill="#3a3a4a"/>
<circle cx="995.2" cy="520" r="1" fill="#3a3a4a"/>
<text transform="translate(993 489.6) rotate(-90) scale(0.87635757408996 1)" font-size="6.2" fill="#303038" textLength="12.8" lengthAdjust="spacing" stroke="#303038" stroke-width="0.1">3,00</text>
<line x1="752.3" y1="530.2" x2="984.2" y2="530.2" stroke="#3a3a4a" stroke-width="0.6"/>
<circle cx="752.3" cy="530.2" r="1" fill="#3a3a4a"/>
<circle cx="777" cy="530.2" r="1" fill="#3a3a4a"/>
<circle cx="833.6" cy="530.2" r="1" fill="#3a3a4a"/>
<circle cx="984.2" cy="530.2" r="1" fill="#3a3a4a"/>
<text transform="translate(758.9 529.7) scale(0.87635757408996 1)" font-size="6.2" fill="#303038" textLength="12.8" lengthAdjust="spacing" stroke="#303038" stroke-width="0.1">1,00</text>
<text transform="translate(797.9 529.7) scale(0.87635757408996 1)" font-size="6.2" fill="#303038" textLength="12.8" lengthAdjust="spacing" stroke="#303038" stroke-width="0.1">2,33</text>
<text transform="translate(901.9 529.7) scale(0.87635757408996 1)" font-size="6.2" fill="#303038" textLength="12.8" lengthAdjust="spacing" stroke="#303038" stroke-width="0.1">6,15</text>
<rect x="895.9" y="470.1" width="43.2" height="14.5" fill="none" stroke="#7a7a7a" stroke-width="0.8"/>
<text transform="translate(898.4 481.1) scale(0.8178395705403004 1)" font-size="10.5" fill="#2a2a2a" textLength="40.4" lengthAdjust="spacing">HAUS 1</text>
<text transform="translate(755 461.5) scale(0.7493552168815942 1)" font-size="6.4" fill="#303038" textLength="11.3" lengthAdjust="spacing" stroke="#303038" stroke-width="0.1">WC</text>
<text transform="translate(754 470) scale(0.8497135662282271 1)" font-size="6.2" fill="#303038" textLength="22.4" lengthAdjust="spacing" stroke="#303038" stroke-width="0.1">2,75 m²</text>
<text transform="translate(756 482) scale(1.0 1)" font-size="6.2" fill="#303038" textLength="66" lengthAdjust="spacing" stroke="#303038" stroke-width="0.1">2,75 X 2,32 = 6,38 M3</text>
<text transform="translate(791 492.5) scale(0.7712155016209153 1)" font-size="6.2" fill="#303038" textLength="33.7" lengthAdjust="spacing" stroke="#303038" stroke-width="0.1">VORRAUM</text>
<text transform="translate(797 500.5) scale(0.8049917995846361 1)" font-size="6.2" fill="#303038" textLength="22.4" lengthAdjust="spacing" stroke="#303038" stroke-width="0.1">6,40 m²</text>
<text transform="translate(779 513) scale(1.0 1)" font-size="6.2" fill="#303038" textLength="66" lengthAdjust="spacing" stroke="#303038" stroke-width="0.1">4,4 X 5,71 = 36,55 M3</text>
<text transform="translate(902 498) scale(0.8452203622546319 1)" font-size="6.2" fill="#303038" textLength="26" lengthAdjust="spacing" stroke="#303038" stroke-width="0.1">18,44 m²</text>
<text transform="translate(875 513) scale(0.9528484681131519 1)" font-size="6.2" fill="#303038" textLength="79.8" lengthAdjust="spacing" stroke="#303038" stroke-width="0.1">18,44 X 11,18 = 206,16 M3</text>
<polygon points="85,409 290.6,409.1 292.7,491.5 313.6,491.5 321,546.4 358.6,547.2 358.6,683.4 91.4,681.4" fill="#fcbcfc" stroke="#9a6aa0" stroke-width="0.8"/>
<polygon points="85,409 234.4,409 240.5,638 90.3,637.8" fill="#eac0f1" stroke="#9a70a8" stroke-width="0.8"/>
<line x1="77.9" y1="409" x2="85.8" y2="682.3" stroke="#707070" stroke-width="0.6"/>
<circle cx="77.9" cy="409" r="1" fill="#3a3a4a"/>
<circle cx="85.8" cy="682.3" r="1" fill="#3a3a4a"/>
<line x1="99.5" y1="409" x2="107" y2="681.4" stroke="#3a3a4a" stroke-width="0.6"/>
<circle cx="99.5" cy="409" r="1" fill="#3a3a4a"/>
<circle cx="105.6" cy="637.8" r="1" fill="#3a3a4a"/>
<circle cx="107" cy="681.4" r="1" fill="#3a3a4a"/>
<text transform="translate(81.5 551.4) rotate(-90) scale(0.8330574350904799 1)" font-size="6.2" fill="#303038" textLength="16.5" lengthAdjust="spacing" stroke="#303038" stroke-width="0.1">11,18</text>
<text transform="translate(102.5 527.1) rotate(-90) scale(0.87635757408996 1)" font-size="6.2" fill="#303038" textLength="12.8" lengthAdjust="spacing" stroke="#303038" stroke-width="0.1">9,41</text>
<text transform="translate(106 665.1) rotate(-90) scale(0.87635757408996 1)" font-size="6.2" fill="#303038" textLength="12.8" lengthAdjust="spacing" stroke="#303038" stroke-width="0.1">1,73</text>
<line x1="237.5" y1="547.2" x2="358.6" y2="547.2" stroke="#9a6aa0" stroke-width="0.7"/>
<line x1="293.8" y1="539.4" x2="321" y2="539.4" stroke="#3a3a4a" stroke-width="0.6"/>
<circle cx="293.8" cy="539.4" r="1" fill="#3a3a4a"/>
<circle cx="321" cy="539.4" r="1" fill="#3a3a4a"/>
<text transform="translate(312 540) rotate(180) scale(0.7400352847870773 1)" font-size="6.2" fill="#303038" textLength="12.8" lengthAdjust="spacing" stroke="#303038" stroke-width="0.1">2,11</text>
<line x1="234" y1="561" x2="358.6" y2="561" stroke="#3a3a4a" stroke-width="0.6"/>
<circle cx="234" cy="561" r="1" fill="#3a3a4a"/>
<circle cx="292.7" cy="561" r="1" fill="#3a3a4a"/>
<circle cx="312.9" cy="561" r="1" fill="#3a3a4a"/>
<circle cx="358.6" cy="561" r="1" fill="#3a3a4a"/>
<text transform="translate(269 561.8) rotate(180) scale(0.8568829613324053 1)" font-size="6.2" fill="#303038" textLength="12.8" lengthAdjust="spacing" stroke="#303038" stroke-width="0.1">3,12</text>
<text transform="translate(306.5 561.8) rotate(180) scale(0.9268753009147809 1)" font-size="6.2" fill="#303038" textLength="7.3" lengthAdjust="spacing" stroke="#303038" stroke-width="0.1">58</text>
<text transform="translate(340.7 561.8) rotate(180) scale(0.7945642005082303 1)" font-size="6.2" fill="#303038" textLength="12.8" lengthAdjust="spacing" stroke="#303038" stroke-width="0.1">5,81</text>
<line x1="336.6" y1="408" x2="336.6" y2="547.2" stroke="#3a3a4a" stroke-width="0.6"/>
<circle cx="336.6" cy="408" r="1" fill="#3a3a4a"/>
<circle cx="336.6" cy="547.2" r="1" fill="#3a3a4a"/>
<text transform="translate(335.9 483.1) rotate(-90) scale(0.87635757408996 1)" font-size="6.2" fill="#303038" textLength="12.8" lengthAdjust="spacing" stroke="#303038" stroke-width="0.1">5,71</text>
<line x1="348" y1="408" x2="348" y2="683.4" stroke="#3a3a4a" stroke-width="0.6"/>
<circle cx="348" cy="408" r="1" fill="#3a3a4a"/>
<circle cx="348" cy="490.8" r="1" fill="#3a3a4a"/>
<circle cx="348" cy="547.2" r="1" fill="#3a3a4a"/>
<circle cx="348" cy="683.4" r="1" fill="#3a3a4a"/>
<text transform="translate(347.3 459.1) rotate(-90) scale(0.87635757408996 1)" font-size="6.2" fill="#303038" textLength="12.8" lengthAdjust="spacing" stroke="#303038" stroke-width="0.1">3,38</text>
<text transform="translate(347.3 513.1) rotate(-90) scale(0.87635757408996 1)" font-size="6.2" fill="#303038" textLength="12.8" lengthAdjust="spacing" stroke="#303038" stroke-width="0.1">2,32</text>
<text transform="translate(347.5 622.1) rotate(-90) scale(0.87635757408996 1)" font-size="6.2" fill="#303038" textLength="12.8" lengthAdjust="spacing" stroke="#303038" stroke-width="0.1">5,60</text>
<line x1="91.8" y1="646.9" x2="358.6" y2="646.9" stroke="#3a3a4a" stroke-width="0.6"/>
<circle cx="91.8" cy="646.9" r="1" fill="#3a3a4a"/>
<circle cx="240" cy="646.9" r="1" fill="#3a3a4a"/>
<circle cx="358.6" cy="646.9" r="1" fill="#3a3a4a"/>
<text transform="translate(156.8 646.2) scale(0.9737306378777333 1)" font-size="6.2" fill="#303038" textLength="12.8" lengthAdjust="spacing" stroke="#303038" stroke-width="0.1">6,12</text>
<text transform="translate(292.8 645.2) scale(0.9737306378777333 1)" font-size="6.2" fill="#303038" textLength="12.8" lengthAdjust="spacing" stroke="#303038" stroke-width="0.1">4,83</text>
<line x1="91.8" y1="656.2" x2="358.6" y2="656.2" stroke="#3a3a4a" stroke-width="0.6"/>
<circle cx="91.8" cy="656.2" r="1" fill="#3a3a4a"/>
<circle cx="358.6" cy="656.2" r="1" fill="#3a3a4a"/>
<text transform="translate(217.5 655.7) scale(0.9087899291896144 1)" font-size="6.2" fill="#303038" textLength="16.5" lengthAdjust="spacing" stroke="#303038" stroke-width="0.1">10,95</text>
<rect x="117.3" y="512" width="15.2" height="44.4" fill="none" stroke="#505060" stroke-width="0.8"/>
<text transform="translate(128.1 553.4) rotate(-90) scale(0.9714942777327206 1)" font-size="9" fill="#202020" textLength="34.6" lengthAdjust="spacing">HAUS 1</text>
<text transform="translate(141 553.5) rotate(-90) scale(0.9094853827453062 1)" font-size="6.2" fill="#303038" textLength="40.7" lengthAdjust="spacing" stroke="#303038" stroke-width="0.1">DECKE Ü KG</text>
<text transform="translate(150.5 553.5) rotate(-90) scale(0.998896791755474 1)" font-size="6.2" fill="#303038" textLength="26" lengthAdjust="spacing" stroke="#303038" stroke-width="0.1">57,60 m²</text>
<text transform="translate(160.5 553) rotate(-90) scale(0.87347229597564 1)" font-size="6.2" fill="#303038" textLength="46.4" lengthAdjust="spacing" stroke="#303038" stroke-width="0.1">= DECKE Ü EG</text>
<rect x="245.3" y="567.1" width="14.5" height="45.4" fill="none" stroke="#505060" stroke-width="0.8"/>
<text transform="translate(255.8 609.5) rotate(-90) scale(0.9252326454597338 1)" font-size="9" fill="#202020" textLength="34.6" lengthAdjust="spacing">HAUS 1</text>
<text transform="translate(272.4 607.7) rotate(-90) scale(0.8267959680640435 1)" font-size="6.2" fill="#303038" textLength="48.4" lengthAdjust="spacing" stroke="#303038" stroke-width="0.1">BODENPLATTE</text>
<text transform="translate(282.3 609.6) rotate(-90) scale(0.922058577005053 1)" font-size="6.2" fill="#303038" textLength="26" lengthAdjust="spacing" stroke="#303038" stroke-width="0.1">53,88 m²</text>
<text transform="translate(292.5 614.9) rotate(-90) scale(0.862688687383348 1)" font-size="6.2" fill="#303038" textLength="46.4" lengthAdjust="spacing" stroke="#303038" stroke-width="0.1">= DECKE Ü EG</text>
<rect x="358.4" y="547.4" width="420" height="136.4" fill="#c1e1f2" stroke="#7a8c98" stroke-width="0.8"/>
<line x1="358.4" y1="661.8" x2="778.4" y2="661.8" stroke="#3a3a4a" stroke-width="0.6"/>
<circle cx="358.4" cy="661.8" r="1" fill="#3a3a4a"/>
<circle cx="778.4" cy="661.8" r="1" fill="#3a3a4a"/>
<line x1="754.3" y1="547.3" x2="754.3" y2="684" stroke="#3a3a4a" stroke-width="0.6"/>
<circle cx="754.3" cy="547.3" r="1" fill="#3a3a4a"/>
<circle cx="754.3" cy="684" r="1" fill="#3a3a4a"/>
<text transform="translate(753.5 621.1) rotate(-90) scale(0.87635757408996 1)" font-size="6.2" fill="#303038" textLength="12.8" lengthAdjust="spacing" stroke="#303038" stroke-width="0.1">5,60</text>
<text transform="translate(576 662.3) rotate(180) scale(0.9087899291896144 1)" font-size="6.2" fill="#303038" textLength="16.5" lengthAdjust="spacing" stroke="#303038" stroke-width="0.1">17,24</text>
<rect x="413.3" y="596.5" width="14.5" height="46.5" fill="none" stroke="#505060" stroke-width="0.8"/>
<text transform="translate(423.8 640) rotate(-90) scale(0.9541461656303505 1)" font-size="9" fill="#202020" textLength="34.6" lengthAdjust="spacing">HAUS 2</text>
<text transform="translate(438.6 641.8) rotate(-90) scale(0.8357433246848759 1)" font-size="6.2" fill="#303038" textLength="40.7" lengthAdjust="spacing" stroke="#303038" stroke-width="0.1">DECKE Ü EG</text>
<text transform="translate(450 642.2) rotate(-90) scale(0.9604776843802636 1)" font-size="6.2" fill="#303038" textLength="26" lengthAdjust="spacing" stroke="#303038" stroke-width="0.1">96,54 m²</text>
<text transform="translate(460.5 643) rotate(-90) scale(0.8620371285381521 1)" font-size="6.2" fill="#303038" textLength="47.1" lengthAdjust="spacing" stroke="#303038" stroke-width="0.1">= DECKE Ü OG</text>
<rect x="787.3" y="612" width="218.5" height="91.6" fill="#ffffff" stroke="#333" stroke-width="1.3"/>
<line x1="951" y1="612" x2="951" y2="704" stroke="#444" stroke-width="0.8"/>
<line x1="787.3" y1="639.6" x2="1005.8" y2="639.6" stroke="#444" stroke-width="0.8"/>
<line x1="787.3" y1="667.1" x2="1005.8" y2="667.1" stroke="#444" stroke-width="0.8"/>
<line x1="787.3" y1="685.2" x2="1005.8" y2="685.2" stroke="#444" stroke-width="0.8"/>
<line x1="842.5" y1="667.1" x2="842.5" y2="685.2" stroke="#444" stroke-width="0.8"/>
<line x1="897.7" y1="667.1" x2="897.7" y2="685.2" stroke="#444" stroke-width="0.8"/>
<text transform="translate(818.2 626.3) scale(0.7106239582273874 1)" font-size="10.1" fill="#1a1a1a" textLength="135.1" lengthAdjust="spacing">WEINBERGSTRASSE 16</text>
<text transform="translate(818.2 636) scale(0.7658024522653019 1)" font-size="10.1" fill="#1a1a1a" textLength="64" lengthAdjust="spacing">7064 OSLIP</text>
<text x="789.5" y="636.5" font-size="5.5" fill="#333" textLength="17" lengthAdjust="spacingAndGlyphs">Projekt</text>
<text transform="translate(966 625) scale(0.7345109745390694 1)" font-size="14" fill="#1a1a1a" textLength="36.2" lengthAdjust="spacing">2552</text>
<text x="954" y="636.5" font-size="5.5" fill="#333" textLength="19" lengthAdjust="spacingAndGlyphs">Proj. Nr.</text>
<text transform="translate(814.2 659.2) scale(0.7368772772489023 1)" font-size="13.5" fill="#1a1a1a" textLength="108.2" lengthAdjust="spacing">EKZ FLÄCHEN</text>
<text x="789.5" y="664.5" font-size="5.5" fill="#333" textLength="13" lengthAdjust="spacingAndGlyphs">Inhalt</text>
<text transform="translate(966 651.5) scale(0.7006848112379279 1)" font-size="12.8" fill="#1a1a1a" textLength="16.6" lengthAdjust="spacing">01</text>
<text x="954" y="664.5" font-size="5.5" fill="#333" textLength="17" lengthAdjust="spacingAndGlyphs">Plan Nr</text>
<text transform="translate(805.4 678) scale(0.775600810482237 1)" font-size="10" fill="#1a1a1a" textLength="42" lengthAdjust="spacing">100/120</text>
<text x="789.5" y="683" font-size="5.5" fill="#333" textLength="10" lengthAdjust="spacingAndGlyphs">M 1:</text>
<text transform="translate(864.6 678) scale(0.694909612625538 1)" font-size="10" fill="#1a1a1a" textLength="31.7" lengthAdjust="spacing">M.BEI</text>
<text x="844" y="683" font-size="5.5" fill="#333" textLength="8" lengthAdjust="spacingAndGlyphs">gez</text>
<text transform="translate(910.2 678) scale(0.773416367265469 1)" font-size="10" fill="#1a1a1a" textLength="14.2" lengthAdjust="spacing">A3</text>
<text x="898.8" y="683" font-size="5.5" fill="#333" textLength="7" lengthAdjust="spacingAndGlyphs">m2</text>
<text transform="translate(965.6 678) scale(0.7666384345208229 1)" font-size="10" fill="#1a1a1a" textLength="45.3" lengthAdjust="spacing">8.7.2025</text>
<text x="954" y="683" font-size="5.5" fill="#333" textLength="15" lengthAdjust="spacingAndGlyphs">Datum</text>
<text x="790" y="692.5" font-size="5.5" fill="#111" textLength="82" lengthAdjust="spacingAndGlyphs" font-weight="bold">Baumeister DI Alexander Beisteiner</text>
<text x="875.6" y="692.5" font-size="5.5" fill="#333" textLength="44" lengthAdjust="spacingAndGlyphs">Frauengasse 2 / EG</text>
<text x="790" y="700" font-size="5.5" fill="#333" textLength="161" lengthAdjust="spacingAndGlyphs">2700 Wr. Neustadt    +43 676 7 2000 91    office@beisteiner-architektur.at</text>
<text x="954" y="700.5" font-size="5.5" fill="#333" textLength="21" lengthAdjust="spacingAndGlyphs">Freigabe</text>
</svg></body></html>
